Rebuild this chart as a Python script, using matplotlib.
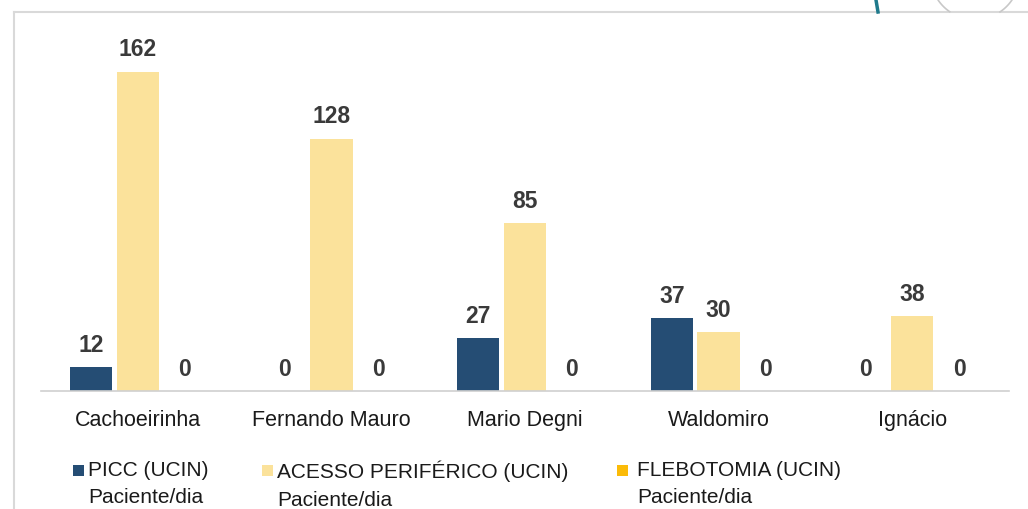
import matplotlib
matplotlib.use("Agg")
import matplotlib.pyplot as plt
import numpy as np
from matplotlib.patches import Rectangle
from matplotlib.lines import Line2D

categories = ["Cachoeirinha", "Fernando Mauro", "Mario Degni", "Waldomiro", "Ignácio"]
picc = [12, 0, 27, 37, 0]
acesso = [162, 128, 85, 30, 38]
flebotomia = [0, 0, 0, 0, 0]
series_labels = ["PICC (UCIN)\nPaciente/dia",
                 "ACESSO PERIFÉRICO (UCIN)\nPaciente/dia",
                 "FLEBOTOMIA (UCIN)\nPaciente/dia"]
colors = ["#254d74", "#fbe29b", "#fbbb08"]

plt.rcParams['font.family'] = ['Liberation Sans', 'DejaVu Sans']

W, H = 1028, 509
fig = plt.figure(figsize=(W / 100, H / 100), dpi=100)
ax = fig.add_axes([41 / W, 1 - 391 / H, (1009 - 41) / W, (391 - 36) / H])

x = np.arange(len(categories))
width = 0.218
off = 0.242
all_series = [picc, acesso, flebotomia]
for i, (vals, col) in enumerate(zip(all_series, colors)):
    ax.bar(x + (i - 1) * off, vals, width, color=col, zorder=2)
    for xi, v in zip(x + (i - 1) * off, vals):
        ax.annotate(str(v), (xi, v), xytext=(0, 7.3), textcoords="offset points",
                    ha="center", va="bottom", fontsize=16.5, fontweight="bold",
                    color="#3a3a3a")

ax.set_xlim(-0.5, len(categories) - 0.5)
ax.set_ylim(0, 180)
ax.set_yticks([])
ax.set_xticks(x)
ax.set_xticklabels(categories, fontsize=15.5, color="#1a1a1a")
ax.tick_params(axis="x", length=0, pad=14)
for s in ["top", "right", "left"]:
    ax.spines[s].set_visible(False)
ax.spines["bottom"].set_color("#d0d0d0")
ax.spines["bottom"].set_linewidth(1.2)
ax.patch.set_alpha(0)

# legend entries placed individually (square + two-line text)
square_x = [73, 262, 617]
text_x = [88, 277, 637]
for lab, col, sx, tx in zip(series_labels, colors, square_x, text_x):
    fig.add_artist(Rectangle((sx / W, 1 - 476 / H), 11 / W, 11 / H,
                             transform=fig.transFigure, color=col, lw=0))
    fig.text(tx / W, 1 - 461 / H, lab, ha="left", va="top", fontsize=15,
             color="#1a1a1a", linespacing=1.55)

# frame lines of the slide
fig.add_artist(Line2D([14 / W, 14 / W], [0, 1 - 12 / H], transform=fig.transFigure,
                      color="#d9d9d9", lw=1.5))
fig.add_artist(Line2D([14 / W, 1], [1 - 12 / H, 1 - 12 / H], transform=fig.transFigure,
                      color="#d9d9d9", lw=1.5))
# decorative bits at top right
fig.add_artist(Line2D([876 / W, 878 / W], [1.0, 1 - 12 / H], transform=fig.transFigure,
                      color="#1f7a8c", lw=2.5))
cx, cy, r = 975, -25, 44.6
ang = np.linspace(0, 2 * np.pi, 400)
px = cx + r * np.cos(ang)
py = cy + r * np.sin(ang)
sel = (py >= 0) & (py <= 12)
for m in (sel & (px < cx), sel & (px > cx)):
    order = np.argsort(py[m])
    fig.add_artist(Line2D(px[m][order] / W, 1 - py[m][order] / H,
                          transform=fig.transFigure, color="#c8c8c8", lw=1.2))

fig.savefig("out.png", dpi=100, facecolor="white")
